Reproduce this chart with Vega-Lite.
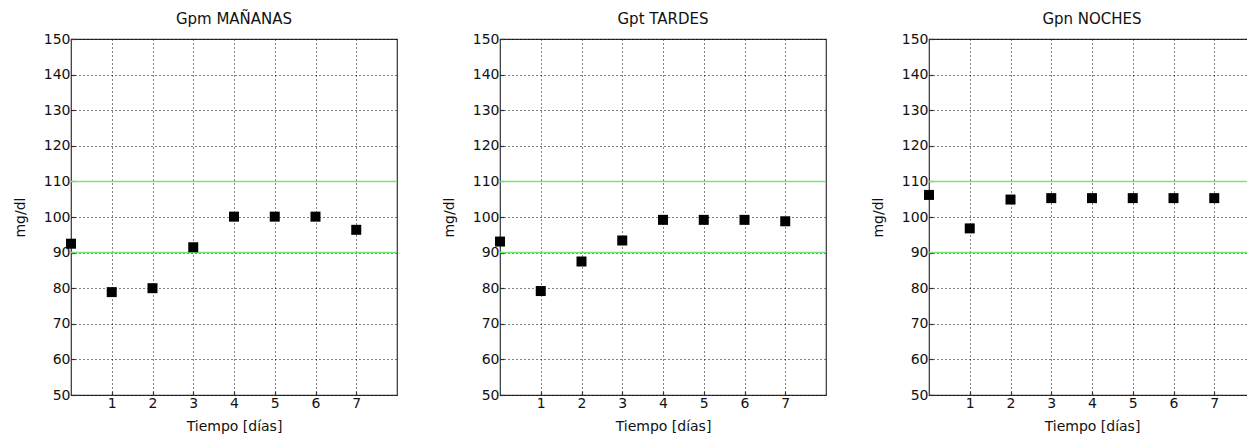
{
  "$schema": "https://vega.github.io/schema/vega-lite/v6.json",
  "padding": {"left": 12, "top": 11, "right": 0, "bottom": 0},
  "background": "white",
  "datasets": {
    "pts": [
      {"panel": "m", "dia": 0, "mgdl": 92.5},
      {"panel": "m", "dia": 1, "mgdl": 78.9},
      {"panel": "m", "dia": 2, "mgdl": 80.0},
      {"panel": "m", "dia": 3, "mgdl": 91.5},
      {"panel": "m", "dia": 4, "mgdl": 100.1},
      {"panel": "m", "dia": 5, "mgdl": 100.1},
      {"panel": "m", "dia": 6, "mgdl": 100.1},
      {"panel": "m", "dia": 7, "mgdl": 96.4},
      {"panel": "t", "dia": 0, "mgdl": 93.1},
      {"panel": "t", "dia": 1, "mgdl": 79.2},
      {"panel": "t", "dia": 2, "mgdl": 87.5},
      {"panel": "t", "dia": 3, "mgdl": 93.4},
      {"panel": "t", "dia": 4, "mgdl": 99.2},
      {"panel": "t", "dia": 5, "mgdl": 99.2},
      {"panel": "t", "dia": 6, "mgdl": 99.2},
      {"panel": "t", "dia": 7, "mgdl": 98.8},
      {"panel": "n", "dia": 0, "mgdl": 106.2},
      {"panel": "n", "dia": 1, "mgdl": 96.8},
      {"panel": "n", "dia": 2, "mgdl": 104.9},
      {"panel": "n", "dia": 3, "mgdl": 105.3},
      {"panel": "n", "dia": 4, "mgdl": 105.3},
      {"panel": "n", "dia": 5, "mgdl": 105.3},
      {"panel": "n", "dia": 6, "mgdl": 105.3},
      {"panel": "n", "dia": 7, "mgdl": 105.3}
    ],
    "limits": [{"lim": 90}, {"lim": 110}]
  },
  "spacing": 42,
  "hconcat": [
    {
      "width": 326, "height": 356,
      "title": "Gpm MAÑANAS",
      "layer": [
        {"data": {"name": "limits"}, "mark": {"type": "rule", "color": "#74e874", "strokeWidth": 1.5},
         "encoding": {"y": {"field": "lim", "type": "quantitative", "scale": {"domain": [50, 150], "nice": false}, "axis": {"values": [50,60,70,80,90,100,110,120,130,140,150], "title": "mg/dl"}}}},
        {"data": {"name": "pts"}, "transform": [{"filter": "datum.panel === 'm'"}],
         "mark": {"type": "square", "size": 100, "color": "black", "opacity": 1},
         "encoding": {
           "x": {"field": "dia", "type": "quantitative", "scale": {"domain": [0, 8], "nice": false}, "axis": {"values": [1,2,3,4,5,6,7], "title": "Tiempo [días]"}},
           "y": {"field": "mgdl", "type": "quantitative", "scale": {"domain": [50, 150], "nice": false}, "axis": {"values": [50,60,70,80,90,100,110,120,130,140,150], "title": "mg/dl"}}
         }}
      ]
    },
    {
      "width": 326, "height": 356,
      "title": "Gpt TARDES",
      "layer": [
        {"data": {"name": "limits"}, "mark": {"type": "rule", "color": "#74e874", "strokeWidth": 1.5},
         "encoding": {"y": {"field": "lim", "type": "quantitative", "scale": {"domain": [50, 150], "nice": false}, "axis": {"values": [50,60,70,80,90,100,110,120,130,140,150], "title": "mg/dl"}}}},
        {"data": {"name": "pts"}, "transform": [{"filter": "datum.panel === 't'"}],
         "mark": {"type": "square", "size": 100, "color": "black", "opacity": 1},
         "encoding": {
           "x": {"field": "dia", "type": "quantitative", "scale": {"domain": [0, 8], "nice": false}, "axis": {"values": [1,2,3,4,5,6,7], "title": "Tiempo [días]"}},
           "y": {"field": "mgdl", "type": "quantitative", "scale": {"domain": [50, 150], "nice": false}, "axis": {"values": [50,60,70,80,90,100,110,120,130,140,150], "title": "mg/dl"}}
         }}
      ]
    },
    {
      "width": 326, "height": 356,
      "title": "Gpn NOCHES",
      "layer": [
        {"data": {"name": "limits"}, "mark": {"type": "rule", "color": "#74e874", "strokeWidth": 1.5},
         "encoding": {"y": {"field": "lim", "type": "quantitative", "scale": {"domain": [50, 150], "nice": false}, "axis": {"values": [50,60,70,80,90,100,110,120,130,140,150], "title": "mg/dl"}}}},
        {"data": {"name": "pts"}, "transform": [{"filter": "datum.panel === 'n'"}],
         "mark": {"type": "square", "size": 100, "color": "black", "opacity": 1},
         "encoding": {
           "x": {"field": "dia", "type": "quantitative", "scale": {"domain": [0, 8], "nice": false}, "axis": {"values": [1,2,3,4,5,6,7], "title": "Tiempo [días]"}},
           "y": {"field": "mgdl", "type": "quantitative", "scale": {"domain": [50, 150], "nice": false}, "axis": {"values": [50,60,70,80,90,100,110,120,130,140,150], "title": "mg/dl"}}
         }}
      ]
    }
  ],
  "config": {
    "font": "DejaVu Sans",
    "view": {"stroke": "#333333", "strokeWidth": 1.2},
    "title": {"fontSize": 15, "fontWeight": "normal", "color": "#111111", "offset": 5, "anchor": "middle"},
    "axis": {
      "grid": true, "gridColor": "#000000", "gridDash": [1, 3], "gridOpacity": 1, "gridWidth": 1,
      "domain": false, "ticks": true, "tickSize": -4, "tickColor": "#333333", "tickWidth": 1.2,
      "labelFontSize": 14, "labelColor": "#111111", "labelPadding": 5, "labelOverlap": false,
      "titleFontSize": 14, "titleFontWeight": "normal", "titleColor": "#111111"
    },
    "axisX": {"titlePadding": 9},
    "axisY": {"titlePadding": 14, "minExtent": 30, "maxExtent": 30}
  }
}
